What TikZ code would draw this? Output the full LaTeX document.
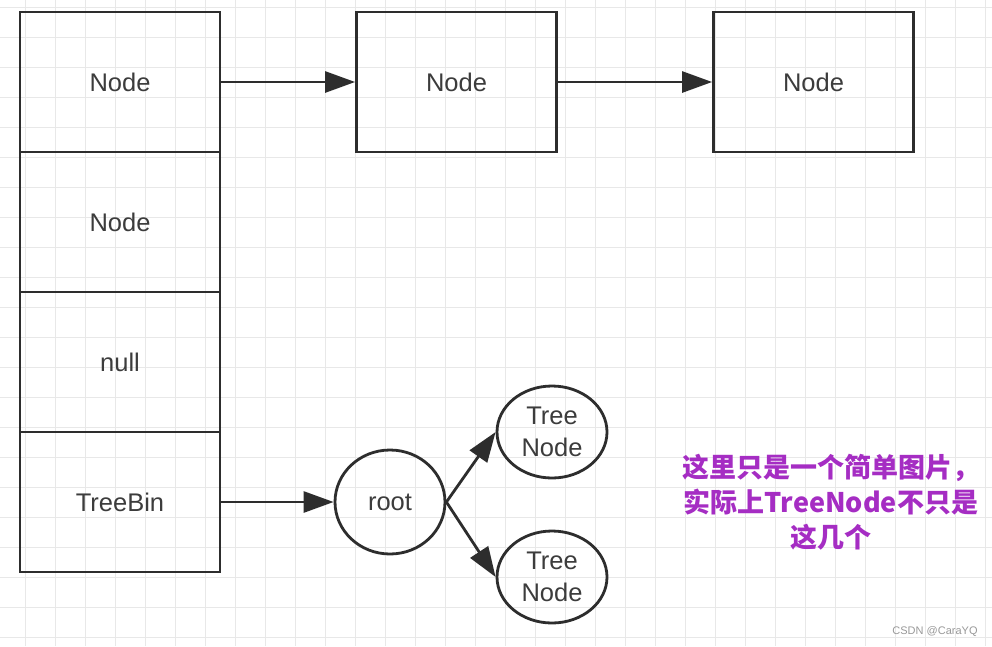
\documentclass[tikz,border=0pt]{standalone}
\usepackage{fontspec}
\setmainfont{Liberation Sans}
\newfontfamily\cjk{Noto Sans CJK SC}
\usetikzlibrary{arrows.meta,shapes.geometric}
\definecolor{gridc}{RGB}{232,232,232}
\definecolor{linec}{RGB}{45,45,45}
\definecolor{txtc}{RGB}{60,60,60}
\definecolor{purp}{RGB}{165,45,195}
\tikzset{
  box/.style={draw=linec, line width=2.8pt, minimum width=200pt, minimum height=140pt, inner sep=0pt,
    font=\fontsize{25.5}{30}\selectfont, text=txtc},
  circ/.style={draw=linec, line width=2.8pt, ellipse, inner sep=0pt, align=center,
    font=\fontsize{25.5}{32}\selectfont, text=txtc},
  arr/.style={draw=linec, line width=2.8pt, -{Triangle[length=30pt,width=21pt]}},
}
\begin{document}
\begin{tikzpicture}[x=1pt,y=-1pt]
\fill[white] (0,0) rectangle (992,646);
\useasboundingbox (0,0) rectangle (992,646);
\foreach \i in {0,...,32} { \draw[gridc, line width=1pt] (25+30*\i,0) -- (25+30*\i,646); }
\foreach \j in {0,...,21} { \draw[gridc, line width=1pt] (0,7+30*\j) -- (992,7+30*\j); }
\node[box] (b1) at (120,82) {Node};
\node[box] (b2) at (120,222) {Node};
\node[box] (b3) at (120,362) {null};
\node[box] (b4) at (120,502) {TreeBin};
\node[box] (n2) at (456.5,82) {Node};
\node[box] (n3) at (813.5,82) {Node};
\node[circ, minimum width=110pt, minimum height=104pt] (root) at (390,502) {root};
\node[circ, minimum width=110pt, minimum height=92pt] (t1) at (552,432) {Tree\\Node};
\node[circ, minimum width=110pt, minimum height=92pt] (t2) at (552,577) {Tree\\Node};
\draw[arr] (b1.east) -- (n2.west);
\draw[arr] (n2.east) -- (n3.west);
\draw[arr] (b4.east) -- (root.west);
\draw[arr] (root.east) -- (t1.west);
\draw[arr] (root.east) -- (t2.west);
\node[align=center, text=purp, font=\cjk\bfseries\fontsize{27}{35}\selectfont] (note) at (831,502)
  {这里只是一个简单图片，\\实际上TreeNode不只是\\这几个};
\node[text=gray!80, font=\fontsize{11}{13}\selectfont] (wm) at (935,632) {CSDN @CaraYQ};
\end{tikzpicture}
\end{document}
